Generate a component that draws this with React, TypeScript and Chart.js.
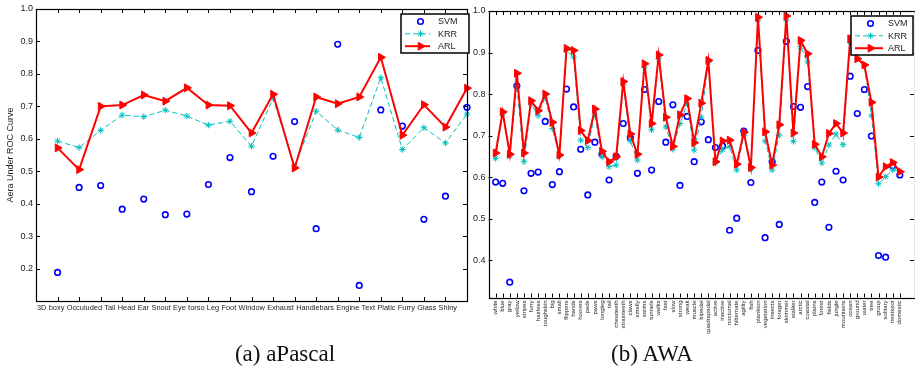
import React, { useEffect, useRef } from 'react';
import { Chart, registerables } from 'chart.js';

Chart.register(...registerables);

const FONT = "'Liberation Sans', Arial, Helvetica, sans-serif";
const SERIF = "'Liberation Serif', 'Times New Roman', Times, serif";

// ---------- (a) aPascal ----------
const aPascalLabels = ['3D', 'boxy', 'Occuluded', 'Tail', 'Head', 'Ear', 'Snout', 'Eye', 'torso', 'Leg', 'Foot', 'Window', 'Exhaust', 'Handlebars', 'Engine', 'Text', 'Platic', 'Furry', 'Glass', 'Shiny'];
const aPascalSVM = [0.188, 0.450, 0.456, 0.383, 0.414, 0.366, 0.368, 0.459, 0.542, 0.437, 0.546, 0.653, 0.323, 0.891, 0.148, 0.689, 0.639, 0.352, 0.423, 0.697];
const aPascalKRR = [0.593, 0.573, 0.626, 0.673, 0.668, 0.688, 0.670, 0.642, 0.654, 0.577, 0.724, 0.515, 0.685, 0.627, 0.604, 0.788, 0.567, 0.634, 0.587, 0.676];
const aPascalARL = [0.572, 0.505, 0.700, 0.704, 0.735, 0.716, 0.757, 0.704, 0.702, 0.618, 0.737, 0.510, 0.729, 0.708, 0.729, 0.851, 0.611, 0.705, 0.636, 0.756];
const aPascalYTicks = [0.2, 0.3, 0.4, 0.5, 0.6, 0.7, 0.8, 0.9, 1.0];

// ---------- (b) AWA ----------
const awaLabels = ['white', 'blue', 'gray', 'yellow', 'stripes', 'furry', 'hairless', 'toughskin', 'big', 'small', 'flippers', 'hands', 'hooves', 'pads', 'paws', 'longleg', 'tail', 'chewteeth', 'strainteeth', 'claws', 'smelly', 'swims', 'tunnels', 'walks', 'fast', 'slow', 'strong', 'weak', 'muscle', 'bipedal', 'quadrapedal', 'active', 'inactive', 'nocturnal', 'hibernate', 'agility', 'fish', 'plankton', 'vegetation', 'insects', 'forager', 'skimmer', 'stalker', 'arctic', 'coastal', 'plains', 'forest', 'fields', 'jungle', 'mountains', 'ocean', 'ground', 'water', 'tree', 'group', 'solitary', 'nestspot', 'domestic'];
const awaSVM = [0.588, 0.585, 0.347, 0.820, 0.567, 0.609, 0.612, 0.734, 0.582, 0.613, 0.812, 0.769, 0.667, 0.557, 0.684, 0.655, 0.593, 0.650, 0.729, 0.695, 0.609, 0.811, 0.617, 0.782, 0.684, 0.774, 0.580, 0.746, 0.637, 0.733, 0.690, 0.671, 0.675, 0.472, 0.501, 0.711, 0.587, 0.905, 0.454, 0.637, 0.486, 0.927, 0.770, 0.768, 0.818, 0.539, 0.588, 0.479, 0.614, 0.593, 0.843, 0.753, 0.811, 0.699, 0.411, 0.407, 0.627, 0.605];
const awaKRR = [0.645, 0.752, 0.651, 0.820, 0.637, 0.776, 0.748, 0.792, 0.717, 0.650, 0.905, 0.889, 0.689, 0.671, 0.752, 0.649, 0.625, 0.629, 0.822, 0.687, 0.641, 0.865, 0.714, 0.885, 0.721, 0.667, 0.729, 0.776, 0.665, 0.744, 0.877, 0.634, 0.666, 0.674, 0.617, 0.700, 0.620, 0.978, 0.687, 0.617, 0.701, 0.978, 0.686, 0.914, 0.877, 0.671, 0.634, 0.677, 0.704, 0.678, 0.925, 0.885, 0.869, 0.748, 0.584, 0.601, 0.617, 0.615];
const awaARL = [0.658, 0.757, 0.655, 0.850, 0.658, 0.784, 0.760, 0.800, 0.732, 0.653, 0.910, 0.905, 0.712, 0.688, 0.764, 0.662, 0.637, 0.649, 0.830, 0.704, 0.655, 0.873, 0.729, 0.894, 0.744, 0.674, 0.750, 0.789, 0.683, 0.778, 0.881, 0.637, 0.687, 0.689, 0.631, 0.708, 0.623, 0.985, 0.709, 0.629, 0.726, 0.988, 0.706, 0.929, 0.897, 0.679, 0.649, 0.705, 0.729, 0.706, 0.933, 0.885, 0.870, 0.780, 0.600, 0.625, 0.635, 0.613];
const awaYTicks = [0.4, 0.5, 0.6, 0.7, 0.8, 0.9, 1.0];

const seriesNames = ['SVM', 'KRR', 'ARL'];

const BLUE = '#0000ff';
const CYAN = '#00bfbf';
const RED = '#ff0000';

function makeDatasets(svm: number[], krr: number[], arl: number[]) {
  const pts = (arr: number[]) => arr.map((v, i) => ({ x: i + 1, y: v }));
  return [
    {
      label: seriesNames[2], data: pts(arl), borderColor: RED, borderWidth: 2,
      pointStyle: 'triangle', pointRotation: 90, pointRadius: 4.6,
      pointBackgroundColor: RED, pointBorderColor: RED, pointBorderWidth: 1,
      order: 1, clip: false, tension: 0,
    },
    {
      label: seriesNames[1], data: pts(krr), borderColor: CYAN, borderWidth: 1, borderDash: [5, 3],
      pointStyle: 'star', pointRadius: 3.2, pointBorderColor: CYAN, pointBackgroundColor: CYAN,
      pointBorderWidth: 1, order: 2, clip: false, tension: 0,
    },
    {
      label: seriesNames[0], data: pts(svm), showLine: false, borderColor: BLUE,
      backgroundColor: 'rgba(0,0,0,0)', pointStyle: 'circle', pointRadius: 2.8,
      pointBorderColor: BLUE, pointBackgroundColor: 'rgba(0,0,0,0)', pointBorderWidth: 1.6,
      order: 3, clip: false,
    },
  ];
}

function drawMarker(ctx: CanvasRenderingContext2D, kind: number, x: number, y: number) {
  ctx.save();
  if (kind === 0) {
    ctx.strokeStyle = BLUE; ctx.lineWidth = 1.6;
    ctx.beginPath(); ctx.arc(x, y, 2.8, 0, Math.PI * 2); ctx.stroke();
  } else if (kind === 1) {
    ctx.strokeStyle = CYAN; ctx.lineWidth = 1;
    const r = 3.2;
    ctx.beginPath();
    for (let k = 0; k < 4; k++) {
      const a = (k * Math.PI) / 4;
      ctx.moveTo(x - Math.cos(a) * r, y - Math.sin(a) * r);
      ctx.lineTo(x + Math.cos(a) * r, y + Math.sin(a) * r);
    }
    ctx.stroke();
  } else {
    ctx.fillStyle = RED; ctx.strokeStyle = RED; ctx.lineWidth = 1;
    const r = 4.6;
    ctx.beginPath();
    for (let k = 0; k < 3; k++) {
      const a = Math.PI / 2 + (k * 2 * Math.PI) / 3;
      const px = x + Math.sin(a) * r, py = y - Math.cos(a) * r;
      if (k === 0) ctx.moveTo(px, py); else ctx.lineTo(px, py);
    }
    ctx.closePath(); ctx.fill(); ctx.stroke();
  }
  ctx.restore();
}

function frameLegendPlugin(legendDx: number, legendW: number, lineEnd: number) {
  return {
    id: 'frameLegend',
    afterDraw(chart: any) {
      const { ctx, chartArea: a, scales } = chart;
      ctx.save();
      ctx.strokeStyle = '#000';
      ctx.lineWidth = 1;
      ctx.beginPath();
      scales.x.ticks.forEach((t: any) => {
        const px = Math.round(scales.x.getPixelForValue(t.value)) + 0.5;
        ctx.moveTo(px, a.top); ctx.lineTo(px, a.top + 4);
        ctx.moveTo(px, a.bottom); ctx.lineTo(px, a.bottom - 4);
      });
      scales.y.ticks.forEach((t: any) => {
        const py = Math.round(scales.y.getPixelForValue(t.value)) + 0.5;
        ctx.moveTo(a.left, py); ctx.lineTo(a.left + 4, py);
        ctx.moveTo(a.right, py); ctx.lineTo(a.right - 4, py);
      });
      ctx.stroke();
      ctx.lineWidth = 1.2;
      ctx.strokeRect(Math.round(a.left) + 0.5, Math.round(a.top) + 0.5, Math.round(a.right - a.left), Math.round(a.bottom - a.top));

      // legend box
      const right = a.right + legendDx;
      const left = right - legendW;
      const top = a.top + 5;
      const h = 39;
      ctx.fillStyle = '#fff';
      ctx.fillRect(left, top, legendW, h);
      ctx.lineWidth = 1.5;
      ctx.strokeRect(left, top, legendW, h);
      const rows = [7.5, 19.8, 32.2];
      ctx.font = `9px ${FONT}`;
      ctx.textBaseline = 'middle';
      ctx.textAlign = 'left';
      seriesNames.forEach((name, k) => {
        const y = top + rows[k];
        if (k === 1) {
          ctx.save(); ctx.strokeStyle = CYAN; ctx.lineWidth = 1; ctx.setLineDash([5, 3]);
          ctx.beginPath(); ctx.moveTo(left + 4, y); ctx.lineTo(left + lineEnd, y); ctx.stroke(); ctx.restore();
        } else if (k === 2) {
          ctx.save(); ctx.strokeStyle = RED; ctx.lineWidth = 2;
          ctx.beginPath(); ctx.moveTo(left + 4, y); ctx.lineTo(left + lineEnd, y); ctx.stroke(); ctx.restore();
        }
        drawMarker(ctx, k, left + 19.5, y);
        ctx.fillStyle = '#222';
        ctx.fillText(name, left + 37, y + 0.5);
      });
      ctx.restore();
    },
  };
}

const flowLabelsPlugin = {
  id: 'flowLabels',
  afterDraw(chart: any) {
    const { ctx, chartArea: a } = chart;
    ctx.save();
    ctx.font = `7.4px ${FONT}`;
    ctx.fillStyle = '#222';
    ctx.textBaseline = 'middle';
    ctx.textAlign = 'left';
    const widths = aPascalLabels.map((l) => ctx.measureText(l).width);
    const total = widths.reduce((s, w) => s + w, 0);
    const start = a.left + 1;
    const end = a.right - 10;
    const gap = (end - start - total) / (aPascalLabels.length - 1);
    let x = start;
    aPascalLabels.forEach((l, i) => {
      ctx.fillText(l, x, a.bottom + 6.5);
      x += widths[i] + gap;
    });
    ctx.restore();
  },
};

function PascalChart() {
  const ref = useRef<HTMLCanvasElement>(null);
  useEffect(() => {
    if (!ref.current) return;
    const chart = new Chart(ref.current, {
      type: 'line',
      data: { datasets: makeDatasets(aPascalSVM, aPascalKRR, aPascalARL) as any },
      options: {
        responsive: false,
        animation: false,
        layout: { autoPadding: false, padding: { top: 9, right: 8, left: 0, bottom: 0 } },
        plugins: { legend: { display: false }, tooltip: { enabled: false } },
        scales: {
          x: {
            type: 'linear', min: 0, max: aPascalLabels.length,
            grid: { display: false, drawTicks: false }, border: { display: false },
            ticks: { display: false },
            afterBuildTicks: (s: any) => { s.ticks = aPascalLabels.map((_, i) => ({ value: i + 1 })); },
            afterFit: (s: any) => { s.height = 68; s.paddingLeft = 0; s.paddingRight = 0; },
          },
          y: {
            type: 'linear', min: 0.1, max: 1.0,
            grid: { display: false, drawTicks: false }, border: { display: false },
            ticks: { font: { size: 9, family: FONT }, color: '#222', padding: 3, callback: (v: any) => Number(v).toFixed(1) },
            afterBuildTicks: (s: any) => { s.ticks = aPascalYTicks.map((v) => ({ value: v })); },
            afterFit: (s: any) => { s.width = 36; },
            title: { display: true, text: 'Aera Under ROC Curve', font: { size: 9, family: FONT }, color: '#222', padding: { top: 5, bottom: 0 } },
          },
        },
      } as any,
      plugins: [frameLegendPlugin(2, 68, 29), flowLabelsPlugin],
    });
    return () => chart.destroy();
  }, []);
  return <canvas ref={ref} width={475} height={369} style={{ position: 'absolute', left: 0, top: 0 }} />;
}

function AwaChart() {
  const ref = useRef<HTMLCanvasElement>(null);
  useEffect(() => {
    if (!ref.current) return;
    const chart = new Chart(ref.current, {
      type: 'line',
      data: { datasets: makeDatasets(awaSVM, awaKRR, awaARL) as any },
      options: {
        responsive: false,
        animation: false,
        layout: { autoPadding: false, padding: { top: 11, right: 1, left: 0, bottom: 0 } },
        plugins: { legend: { display: false }, tooltip: { enabled: false } },
        scales: {
          x: {
            type: 'linear', min: 0, max: 60,
            grid: { display: false, drawTicks: false }, border: { display: false },
            ticks: {
              font: { size: 6, family: FONT }, color: '#222', padding: 3,
              minRotation: 90, maxRotation: 90, autoSkip: false,
              callback: (v: any) => awaLabels[Number(v) - 1] ?? '',
            },
            afterBuildTicks: (s: any) => { s.ticks = awaLabels.map((_, i) => ({ value: i + 1 })); },
            afterFit: (s: any) => { s.height = 71.5; s.paddingLeft = 0; s.paddingRight = 0; },
          },
          y: {
            type: 'linear', min: 0.31, max: 1.0,
            grid: { display: false, drawTicks: false }, border: { display: false },
            ticks: { font: { size: 9, family: FONT }, color: '#222', padding: 3, callback: (v: any) => Number(v).toFixed(1) },
            afterBuildTicks: (s: any) => { s.ticks = awaYTicks.map((v) => ({ value: v })); },
            afterFit: (s: any) => { s.width = 28.5; s.paddingTop = 0; s.paddingBottom = 0; },
          },
        },
      } as any,
      plugins: [frameLegendPlugin(-1, 62, 32)],
    });
    return () => chart.destroy();
  }, []);
  return <canvas ref={ref} width={455} height={369} style={{ position: 'absolute', left: 460, top: 0 }} />;
}

const captionStyle: React.CSSProperties = {
  position: 'absolute', width: 200, textAlign: 'center', fontFamily: SERIF,
  fontSize: 23, lineHeight: '26px', top: 341, color: '#111', whiteSpace: 'nowrap',
};

export default function App() {
  return (
    <div style={{ position: 'absolute', left: 0, top: 0, width: 915, height: 369, background: '#fff', overflow: 'hidden' }}>
      <PascalChart />
      <AwaChart />
      <div style={{ ...captionStyle, left: 285 - 100 }}>(a) aPascal</div>
      <div style={{ ...captionStyle, left: 652 - 100 }}>(b) AWA</div>
    </div>
  );
}
